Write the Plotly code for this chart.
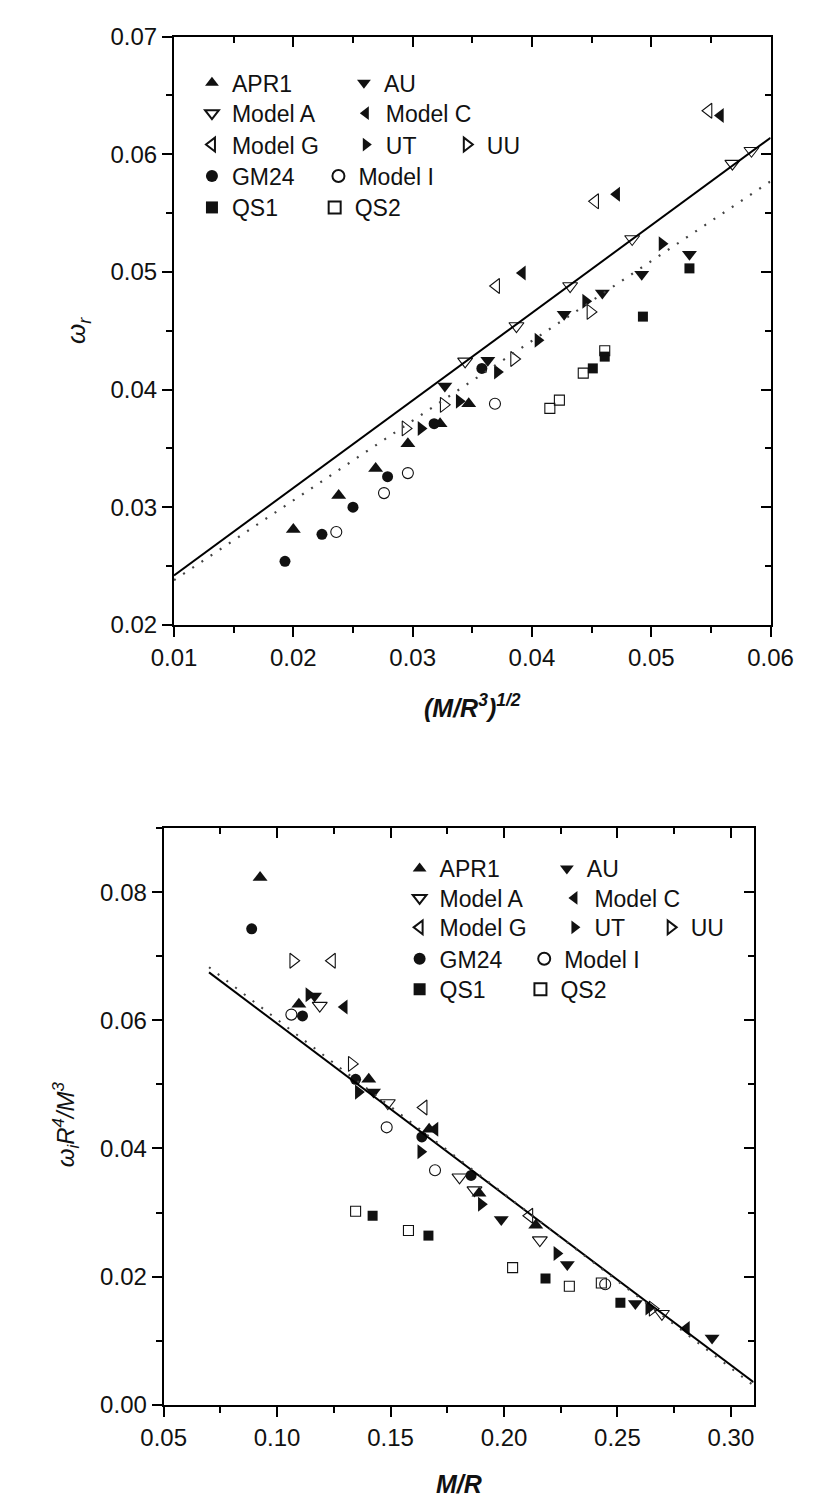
import plotly.graph_objects as go

# ---------------- data: top panel  (x = (M/R^3)^1/2, y = omega_r) ----------------
top_names = ["APR1", "AU", "Model A", "Model C", "Model G", "UT", "UU", "GM24", "Model I", "QS1", "QS2"]
top_x = {
    "APR1":    [0.0200, 0.0238, 0.0269, 0.0296, 0.0323, 0.0347],
    "AU":      [0.0327, 0.0363, 0.0427, 0.0459, 0.0492, 0.0532],
    "Model A": [0.0344, 0.0387, 0.0432, 0.0484, 0.0568, 0.0584],
    "Model C": [0.0392, 0.0471, 0.0558],
    "Model G": [0.0370, 0.0453, 0.0548],
    "UT":      [0.0307, 0.0339, 0.0371, 0.0405, 0.0445, 0.0509],
    "UU":      [0.0294, 0.0326, 0.0385, 0.0449],
    "GM24":    [0.0193, 0.0224, 0.0250, 0.0279, 0.0318, 0.0358],
    "Model I": [0.0236, 0.0276, 0.0296, 0.0369],
    "QS1":     [0.0451, 0.0461, 0.0493, 0.0532],
    "QS2":     [0.0415, 0.0423, 0.0443, 0.0461],
}
top_y = {
    "APR1":    [0.0281, 0.0310, 0.0333, 0.0354, 0.0371, 0.0388],
    "AU":      [0.0403, 0.0425, 0.0464, 0.0482, 0.0498, 0.0515],
    "Model A": [0.0424, 0.0454, 0.0488, 0.0528, 0.0592, 0.0603],
    "Model C": [0.0499, 0.0566, 0.0633],
    "Model G": [0.0488, 0.0560, 0.0637],
    "UT":      [0.0367, 0.0390, 0.0415, 0.0442, 0.0475, 0.0524],
    "UU":      [0.0367, 0.0387, 0.0426, 0.0466],
    "GM24":    [0.0254, 0.0277, 0.0300, 0.0326, 0.0371, 0.0418],
    "Model I": [0.0279, 0.0312, 0.0329, 0.0388],
    "QS1":     [0.0418, 0.0428, 0.0462, 0.0503],
    "QS2":     [0.0384, 0.0391, 0.0414, 0.0433],
}
top_fit_x = [0.01, 0.06]
top_fit_solid_y = [0.0242, 0.0614]
top_fit_dot_y = [0.0238, 0.0577]

# ---------------- data: bottom panel (x = M/R, y = omega_i R^4/M^3) ----------------
bot_x = {
    "APR1":    [0.0925, 0.1096, 0.1404, 0.1670, 0.1890, 0.2140],
    "AU":      [0.1165, 0.1425, 0.1988, 0.2279, 0.2579, 0.2917],
    "Model A": [0.1188, 0.1488, 0.1804, 0.1870, 0.2158, 0.2696],
    "Model C": [0.1296, 0.1696, 0.2804],
    "Model G": [0.1242, 0.1646, 0.2112],
    "UT":      [0.1140, 0.1358, 0.1633, 0.1900, 0.2233, 0.2638],
    "UU":      [0.1071, 0.1329, 0.2655],
    "GM24":    [0.0888, 0.1112, 0.1346, 0.1638, 0.1855],
    "Model I": [0.1063, 0.1483, 0.1696, 0.2446],
    "QS1":     [0.1421, 0.1667, 0.2183, 0.2513],
    "QS2":     [0.1346, 0.1579, 0.2038, 0.2288, 0.2429],
}
bot_y = {
    "APR1":    [0.0823, 0.0625, 0.0508, 0.0430, 0.0330, 0.0280],
    "AU":      [0.0638, 0.0488, 0.0289, 0.0219, 0.0158, 0.0104],
    "Model A": [0.0623, 0.0471, 0.0355, 0.0335, 0.0257, 0.0142],
    "Model C": [0.0621, 0.0430, 0.0119],
    "Model G": [0.0693, 0.0464, 0.0295],
    "UT":      [0.0640, 0.0488, 0.0395, 0.0313, 0.0236, 0.0151],
    "UU":      [0.0693, 0.0532, 0.0150],
    "GM24":    [0.0743, 0.0607, 0.0508, 0.0418, 0.0358],
    "Model I": [0.0609, 0.0433, 0.0366, 0.0188],
    "QS1":     [0.0295, 0.0264, 0.0197, 0.0159],
    "QS2":     [0.0302, 0.0272, 0.0214, 0.0185, 0.0190],
}
bot_fit_x = [0.07, 0.31]
bot_fit_solid_y = [0.0675, 0.0035]
bot_fit_dot_y = [0.0683, 0.0030]

# ---------------- styles ----------------
symbols = {
    "APR1": "triangle-up", "AU": "triangle-down", "Model A": "triangle-down-open",
    "Model C": "triangle-left", "Model G": "triangle-left-open", "UT": "triangle-right",
    "UU": "triangle-right-open", "GM24": "circle", "Model I": "circle-open",
    "QS1": "square", "QS2": "square-open",
}
sizes = {"circle": 11, "circle-open": 11, "square": 10, "square-open": 10}

FONT = "Arial, Liberation Sans, sans-serif"
W, H = 820, 1512

# legend entry positions (symbol centre x, row centre y) in pixels
top_leg = {
    "APR1": (207, 70), "AU": (368, 70),
    "Model A": (207, 101), "Model C": (370, 101),
    "Model G": (207, 133), "UT": (370, 133), "UU": (477, 133),
    "GM24": (207, 165), "Model I": (341, 165),
    "QS1": (207, 197), "QS2": (337, 197),
}
bot_leg = {
    "APR1": (427, 870), "AU": (583, 870),
    "Model A": (427, 900), "Model C": (591, 900),
    "Model G": (427, 930), "UT": (591, 930), "UU": (693, 930),
    "GM24": (427, 962), "Model I": (559, 962),
    "QS1": (427, 993), "QS2": (555, 993),
}

fig = go.Figure()
layout_legends = {}
leg_i = [1]


def add_series(name, xs, ys, xa, ya, legpos):
    sym = symbols[name]
    is_open = sym.endswith("open")
    key = "legend" if leg_i[0] == 1 else f"legend{leg_i[0]}"
    leg_i[0] += 1
    fig.add_trace(go.Scatter(
        x=xs, y=ys, mode="markers", name=name, xaxis=xa, yaxis=ya,
        legend=key,
        marker=dict(symbol=sym, size=sizes.get(sym, 13), color="#111111",
                    line=dict(width=1.1 if is_open else 0, color="#333333")),
    ))
    px, py = legpos
    layout_legends[key] = dict(
        x=(px - 28) / W, y=1 - py / H, xanchor="left", yanchor="middle",
        bgcolor="rgba(0,0,0,0)", borderwidth=0, itemsizing="constant",
        font=dict(family=FONT, size=23, color="#111"),
        orientation="h", tracegroupgap=0,
    )


for n in top_names:
    add_series(n, top_x[n], top_y[n], "x", "y", top_leg[n])
fig.add_trace(go.Scatter(x=top_fit_x, y=top_fit_solid_y, mode="lines", showlegend=False,
                         line=dict(color="black", width=2), xaxis="x", yaxis="y"))
fig.add_trace(go.Scatter(x=top_fit_x, y=top_fit_dot_y, mode="lines", showlegend=False,
                         line=dict(color="#444", width=2.2, dash="2px,9px"), xaxis="x", yaxis="y"))

for n in top_names:
    add_series(n, bot_x[n], bot_y[n], "x2", "y2", bot_leg[n])
fig.add_trace(go.Scatter(x=bot_fit_x, y=bot_fit_solid_y, mode="lines", showlegend=False,
                         line=dict(color="black", width=2), xaxis="x2", yaxis="y2"))
fig.add_trace(go.Scatter(x=bot_fit_x, y=bot_fit_dot_y, mode="lines", showlegend=False,
                         line=dict(color="#444", width=2, dash="2px,9px"), xaxis="x2", yaxis="y2"))

# dummy traces so the inward-tick mirror axes get drawn
fig.add_trace(go.Scatter(x=[None], y=[None], xaxis="x3", yaxis="y3", showlegend=False))
fig.add_trace(go.Scatter(x=[None], y=[None], xaxis="x4", yaxis="y4", showlegend=False))

tdom_x = [160 / W, 792 / W]
tdom_y = [1 - 622 / H, 1 - 23 / H]
bdom_x = [149 / W, 774 / W]
bdom_y = [1 - 1416 / H, 1 - 829 / H]

tickfont = dict(family=FONT, size=24, color="#111")


def main_axis(rng, dom, anchor, dtick, mdtick, fmt):
    return dict(range=rng, domain=dom, anchor=anchor, showline=True, linewidth=2,
                linecolor="black", mirror=True, ticks="outside", ticklen=10, tickwidth=2,
                tickcolor="black", dtick=dtick, tick0=rng[0], tickformat=fmt,
                tickfont=tickfont, showgrid=False, zeroline=False,
                minor=dict(ticks="outside", ticklen=6, tickwidth=2, dtick=mdtick,
                           tickcolor="black", showgrid=False))


def mirror_axis(rng, dom, anchor, side, overlay, dtick, mdtick):
    return dict(range=rng, domain=dom, anchor=anchor, side=side, overlaying=overlay,
                showline=False, ticks="inside", ticklen=10, tickwidth=2, tickcolor="black",
                dtick=dtick, tick0=rng[0], showticklabels=False, showgrid=False,
                zeroline=False,
                minor=dict(ticks="inside", ticklen=6, tickwidth=2, dtick=mdtick,
                           tickcolor="black", showgrid=False))


fig.update_layout(
    width=W, height=H, margin=dict(l=0, r=0, t=0, b=0),
    paper_bgcolor="white", plot_bgcolor="white",
    font=dict(family=FONT, color="#111"),
    xaxis=main_axis([0.01, 0.06], tdom_x, "y", 0.01, 0.005, ".2f"),
    yaxis=main_axis([0.02, 0.07], tdom_y, "x", 0.01, 0.005, ".2f"),
    xaxis2=main_axis([0.05, 0.31], bdom_x, "y2", 0.05, 0.025, ".2f"),
    yaxis2=main_axis([0.0, 0.09], bdom_y, "x2", 0.02, 0.01, ".2f"),
    xaxis3=mirror_axis([0.01, 0.06], tdom_x, "y", "top", "x", 0.01, 0.005),
    yaxis3=mirror_axis([0.02, 0.07], tdom_y, "x", "right", "y", 0.01, 0.005),
    xaxis4=mirror_axis([0.05, 0.31], bdom_x, "y2", "top", "x2", 0.05, 0.025),
    yaxis4=mirror_axis([0.0, 0.09], bdom_y, "x2", "right", "y2", 0.02, 0.01),
    **layout_legends,
)

ann = [
    dict(text="<b><i>(M/R<sup>3</sup>)<sup>1/2</sup></i></b>", x=476 / W, y=1 - 705 / H,
         font=dict(family=FONT, size=25, color="#111")),
    dict(text="<i>ω<sub>r</sub></i>", x=58 / W, y=1 - 322 / H, textangle=-90,
         font=dict(family=FONT, size=26, color="#111")),
    dict(text="<b><i>M/R</i></b>", x=462 / W, y=1 - 1497 / H,
         font=dict(family=FONT, size=25, color="#111")),
    dict(text="<i>ω<sub>i</sub>R<sup>4</sup>/M<sup>3</sup></i>", x=45 / W, y=1 - 1130 / H,
         textangle=-90, font=dict(family=FONT, size=24, color="#111")),
]
for a in ann:
    a.update(xref="paper", yref="paper", showarrow=False, xanchor="center", yanchor="middle")
fig.update_layout(annotations=ann)

fig.write_html("out.html")
